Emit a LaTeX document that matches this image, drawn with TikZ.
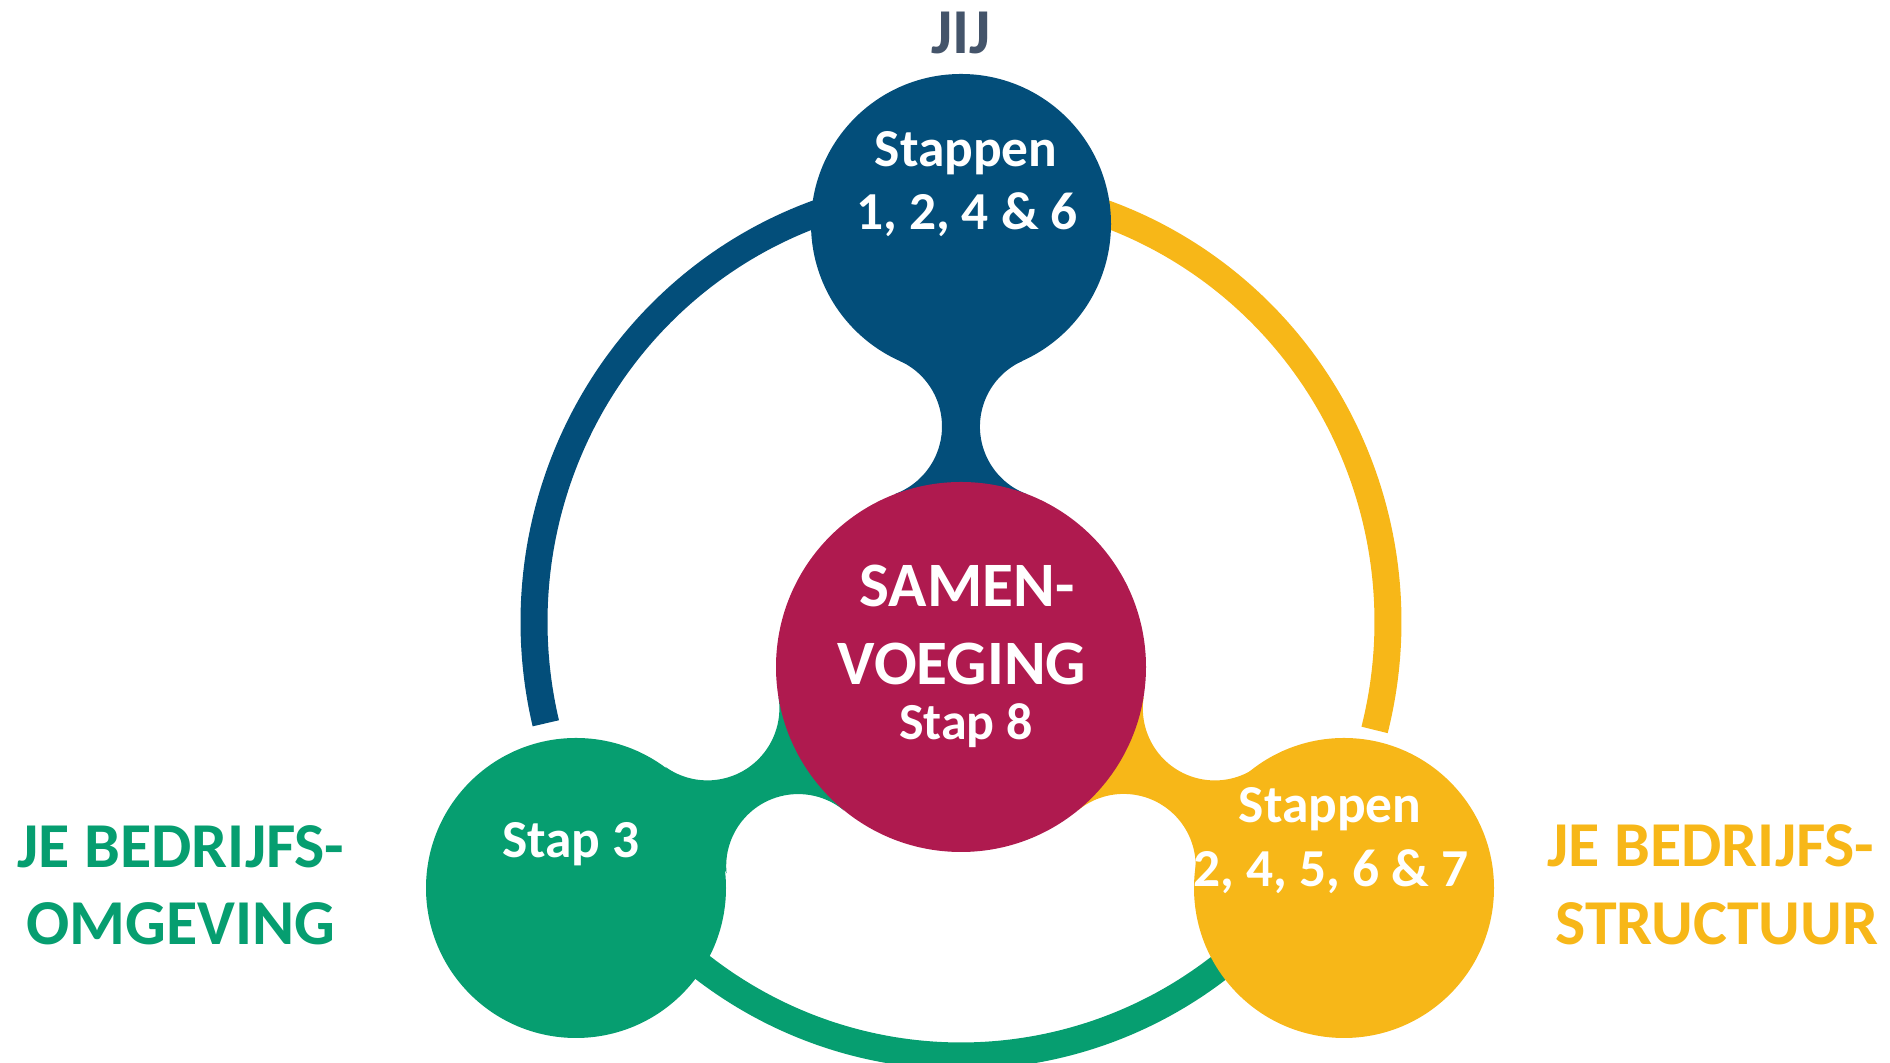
\documentclass[tikz,border=0pt]{standalone}
\usepackage{fontspec}
\setmainfont{Carlito}
\definecolor{jijblue}{RGB}{3,78,122}
\definecolor{omggreen}{RGB}{6,158,112}
\definecolor{strucyellow}{RGB}{247,183,24}
\definecolor{mergered}{RGB}{175,26,79}
\definecolor{jijgray}{RGB}{68,84,106}
\begin{document}
\begin{tikzpicture}
	\tikzstyle{blob}=[circle,inner sep=0pt,minimum size=3cm]
	\tikzstyle{ringpart}=[line width=2.7mm]
	\tikzstyle{steptext}=[anchor=base,inner sep=0pt,text=white,font=\bfseries\fontsize{15.2}{17}\selectfont]
	\tikzstyle{sidetext}=[anchor=base,inner sep=0pt,font=\bfseries\fontsize{18.2}{20}\selectfont]
	\useasboundingbox (0,0) rectangle (18.9,10.63);
	\begin{scope}
		\coordinate (ring) at (9.61,4.41);
		\draw[ringpart,jijblue] ([shift={(100:4.27 and 4.34)}]ring) arc[start angle=100,end angle=193.5,x radius=4.27,y radius=4.34];
		\draw[ringpart,strucyellow] ([shift={(80:4.27 and 4.34)}]ring) arc[start angle=80,end angle=-14.4,x radius=4.27,y radius=4.34];
		\draw[ringpart,omggreen] ([shift={(232.5:4.27 and 4.34)}]ring) arc[start angle=232.5,end angle=312,x radius=4.27,y radius=4.34];
	\end{scope}
	\begin{scope}
		\node [blob,fill=jijblue] (jij) at (9.61,8.39) {};
		\node [blob,fill=omggreen] (omgeving) at (5.76,1.75) {};
		\node [blob,fill=strucyellow] (structuur) at (13.44,1.75) {};
		\foreach \ang/\col in {0/jijblue,120/omggreen,240/strucyellow}
			\fill[\col,shift={(9.61,3.96)},rotate=\ang] (-0.615,3.062) arc[start angle=65.8,end angle=-69.3,radius=0.72]
				-- (0.655,1.730) arc[start angle=249.3,end angle=114.2,radius=0.72] -- cycle;
		\node [circle,inner sep=0pt,minimum size=3.7cm,fill=mergered] (samen) at (9.61,3.96) {};
	\end{scope}
	\node [sidetext,text=jijgray] (jijlabel) at (9.61,10.09) {JIJ};
	\node [sidetext,text=omggreen] (omg1) at (1.81,1.95) {JE BEDRIJFS-};
	\node [sidetext,text=omggreen] (omg2) at (1.81,1.18) {OMGEVING};
	\node [sidetext,text=strucyellow] (struc1) at (17.11,1.96) {JE BEDRIJFS-};
	\node [sidetext,text=strucyellow] (struc2) at (17.17,1.18) {STRUCTUUR};
	\node [steptext] (jijstep1) at (9.66,8.96) {Stappen};
	\node [steptext] (jijstep2) at (9.67,8.33) {1, 2, 4 \& 6};
	\node [steptext,font=\bfseries\fontsize{18}{20}\selectfont] (samen1) at (9.67,4.56) {SAMEN-};
	\node [steptext,font=\bfseries\fontsize{18}{20}\selectfont] (samen2) at (9.62,3.78) {VOEGING};
	\node [steptext,font=\bfseries\fontsize{14.8}{16}\selectfont] (samen3) at (9.66,3.23) {Stap 8};
	\node [steptext] (omgstep) at (5.71,2.05) {Stap 3};
	\node [steptext] (strucstep1) at (13.30,2.40) {Stappen};
	\node [steptext] (strucstep2) at (13.31,1.76) {2, 4, 5, 6 \& 7};
\end{tikzpicture}
\end{document}
